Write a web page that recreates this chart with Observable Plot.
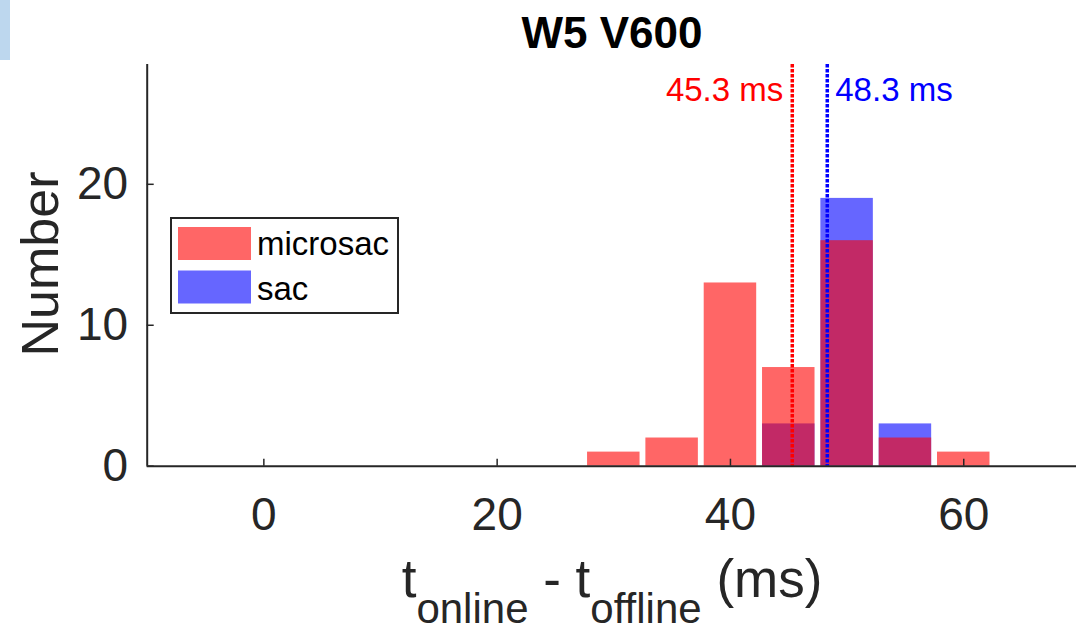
<!DOCTYPE html>
<html><head><meta charset="utf-8">
<script src="https://cdn.jsdelivr.net/npm/d3@7"></script>
<script src="https://cdn.jsdelivr.net/npm/@observablehq/plot@0.6"></script>
<style>
body{margin:0;background:#fff;font-family:"Liberation Sans",Arial,sans-serif;}
#wrap{position:relative;width:1076px;height:631px;overflow:hidden;background:#fff;}
#wrap svg{position:absolute;left:0;top:0;}
</style></head><body>
<div id="wrap"></div>
<script>
// ---- data ----
const binCenters = [30, 35, 40, 45, 50, 55, 60];
const microsacCounts = [1, 2, 13, 7, 16, 2, 1];
const sacCounts = [0, 0, 0, 3, 19, 3, 0];
const seriesNames = ["microsac", "sac"];
const seriesColors = ["#FF0000", "#0000FF"];
const meanValues = [45.3, 48.3];
const xTicks = [0, 20, 40, 60];
const yTicks = [0, 10, 20];
const titleText = "W5 V600";
const yLabel = "Number";

// ---- build ----
const binHalf = 2.25;
const micro = binCenters.map((c, i) => ({c, n: microsacCounts[i]}));
const sac = binCenters.map((c, i) => ({c, n: sacCounts[i]}));
const means = meanValues.map((v, i) => ({v, color: seriesColors[i]}));
const axisColor = "#262626";
const font = "'Liberation Sans', Arial, sans-serif";

const plot = Plot.plot({
  width: 1076, height: 631,
  marginLeft: 146.7, marginRight: -3.9, marginTop: 64, marginBottom: 165.3,
  x: {domain: [-10, 70]},
  y: {domain: [0, 28.5]},
  style: {fontFamily: font, color: axisColor, background: "transparent"},
  marks: [
    Plot.rectY(sac, {x1: d => d.c - binHalf, x2: d => d.c + binHalf, y: "n", fill: seriesColors[1], fillOpacity: 0.6}),
    Plot.rectY(micro, {x1: d => d.c - binHalf, x2: d => d.c + binHalf, y: "n", fill: seriesColors[0], fillOpacity: 0.6}),
    Plot.ruleX(means, {x: "v", stroke: "color", strokeWidth: 3.5, strokeDasharray: "3.5,1.5"}),
    Plot.text([means[0]], {
      x: "v", frameAnchor: "top", text: d => d.v.toFixed(1) + " ms",
      textAnchor: "end", lineAnchor: "bottom",
      dx: -9, dy: 36, fill: "color", fontSize: 33
    }),
    Plot.text([means[1]], {
      x: "v", frameAnchor: "top", text: d => d.v.toFixed(1) + " ms",
      textAnchor: "start", lineAnchor: "bottom",
      dx: 8, dy: 36, fill: "color", fontSize: 33
    }),
    Plot.ruleY([0], {stroke: axisColor, strokeWidth: 2}),
    Plot.ruleX([-10], {stroke: axisColor, strokeWidth: 2}),
    Plot.axisX(xTicks, {tickSize: 7, dy: -7, fill: "none", stroke: axisColor, strokeWidth: 1.5, label: null}),
    Plot.axisX(xTicks, {tickSize: 0, tickPadding: 31, fontSize: 46, fill: axisColor, label: null}),
    Plot.axisY(yTicks, {tickSize: 7, dx: 7, fill: "none", stroke: axisColor, strokeWidth: 1.5, label: null}),
    Plot.axisY(yTicks, {tickSize: 0, tickPadding: 19, fontSize: 46, fill: axisColor, label: null})
  ]
});
const wrap = document.getElementById("wrap");
wrap.appendChild(plot);

// ---- overlay: title, axis labels, legend ----
const NS = "http://www.w3.org/2000/svg";
const ov = document.createElementNS(NS, "svg");
ov.setAttribute("width", 1076); ov.setAttribute("height", 631);
ov.setAttribute("font-family", font);
wrap.appendChild(ov);
function el(tag, attrs, parent = ov) {
  const e = document.createElementNS(NS, tag);
  for (const k in attrs) e.setAttribute(k, attrs[k]);
  parent.appendChild(e); return e;
}
// light blue corner artifact
el("rect", {x: 0, y: 0, width: 10, height: 60, fill: "#BDD7EE"});
// title
const t = el("text", {x: 612, y: 48, "text-anchor": "middle", "font-size": 44, "font-weight": "bold", fill: "#000"});
t.textContent = titleText;
// y label
const yl = el("text", {transform: "translate(58,264) rotate(-90)", "text-anchor": "middle", "font-size": 52, fill: axisColor});
yl.textContent = yLabel;
// x label with subscripts
const xl = el("text", {x: 612, y: 597, "text-anchor": "middle", "font-size": 53, fill: axisColor});
const parts = [["t", 53, 0], ["online", 42, 26], [" - t", 53, -26], ["offline", 42, 26], [" (ms)", 53, -26]];
for (const [s, fs, dy] of parts) {
  const ts = el("tspan", {"font-size": fs, dy: dy}, xl);
  ts.textContent = s;
}
// legend
el("rect", {x: 171, y: 218, width: 227, height: 95, fill: "#fff", stroke: axisColor, "stroke-width": 2});
seriesNames.forEach((name, i) => {
  el("rect", {x: 178, y: 227 + i * 43.5, width: 73, height: 33, fill: seriesColors[i], "fill-opacity": 0.6});
  const lt = el("text", {x: 257, y: 255 + i * 45, "font-size": 33, fill: "#000"});
  lt.textContent = name;
});
</script>
</body></html>
